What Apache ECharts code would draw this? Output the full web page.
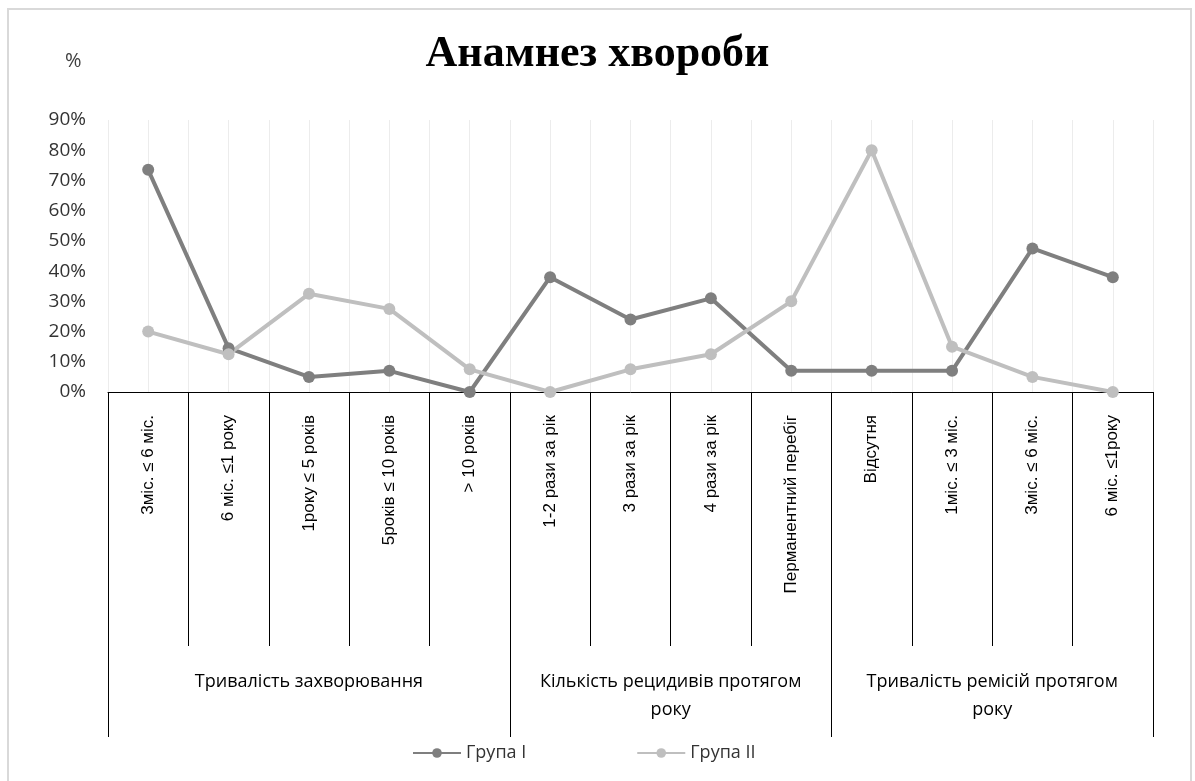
<!DOCTYPE html>
<html>
<head>
<meta charset="utf-8">
<script src="https://cdn.jsdelivr.net/npm/echarts@6/dist/echarts.min.js"></script>
<style>
  html, body { margin: 0; padding: 0; background: #ffffff; }
  #chart { width: 1195px; height: 781px; }
</style>
</head>
<body>
<div id="chart"></div>
<script>
// Categories along the horizontal axis
const categories = [
  '3міс. ≤ 6 міс.', '6 міс. ≤1 року', '1року ≤ 5 років', '5років ≤ 10 років', '> 10 років',
  '1-2 рази за рік', '3 рази за рік', '4 рази за рік', 'Перманентний перебіг',
  'Відсутня', '1міс. ≤ 3 міс.', '3міс. ≤ 6 міс.', '6 міс. ≤1року'
];

// Category groups: name and number of categories in each
const groupNames = ['Тривалість захворювання', 'Кількість рецидивів протягом\nроку', 'Тривалість ремісій протягом\nроку'];
const groupSizes = [5, 4, 4];

// Series values, %
const group1 = [73.5, 14.5, 5, 7, 0, 38, 24, 31, 7, 7, 7, 47.5, 38];
const group2 = [20, 12.5, 32.5, 27.5, 7.5, 0, 7.5, 12.5, 30, 80, 15, 5, 0];

const seriesNames = ['Група I', 'Група II'];
const yTicks = [0, 10, 20, 30, 40, 50, 60, 70, 80, 90];

// Group boundaries and centres in category units
const groupEdges = [0];
groupSizes.forEach(s => groupEdges.push(groupEdges[groupEdges.length - 1] + s));
const groupCentres = groupSizes.map((s, i) => groupEdges[i] + s / 2);

const chart = echarts.init(document.getElementById('chart'));
const sans = '"Open Sans", "Liberation Sans", sans-serif';

chart.setOption({
  backgroundColor: '#ffffff',
  animation: false,
  graphic: [{
    type: 'rect',
    shape: { x: 8, y: 9, width: 1183, height: 790 },
    style: { fill: 'none', stroke: '#d9d9d9', lineWidth: 2 },
    silent: true
  }],
  title: [{
    text: 'Анамнез хвороби',
    left: 'center',
    top: 28,
    textStyle: { fontFamily: '"Liberation Serif", "Times New Roman", serif', fontWeight: 'bold', fontSize: 44, color: '#000' }
  }, {
    text: '%',
    left: 60,
    top: 46,
    textStyle: { fontFamily: sans, fontWeight: 'normal', fontSize: 20, color: '#404040' }
  }],
  legend: {
    data: seriesNames,
    left: 407,
    top: 739,
    itemWidth: 48,
    itemHeight: 12,
    itemGap: 110,
    textStyle: { fontFamily: sans, fontSize: 18, color: '#333' }
  },
  grid: { left: 108, right: 42, top: 120, bottom: 389, containLabel: false },
  xAxis: [{
    type: 'category',
    data: categories,
    boundaryGap: true,
    position: 'bottom',
    axisLine: { lineStyle: { color: '#000', width: 1 } },
    axisTick: { show: true, interval: 0, length: 254, lineStyle: { color: '#000', width: 1 } },
    axisLabel: { interval: 0, rotate: 90, margin: 23, fontFamily: '"Liberation Sans", Arial, sans-serif', fontSize: 17, color: '#000' },
    splitLine: { show: false }
  }, {
    // group row beneath the category labels
    type: 'value',
    min: 0,
    max: categories.length,
    position: 'bottom',
    axisLine: { show: false },
    axisTick: { show: true, customValues: groupEdges, length: 345, lineStyle: { color: '#000', width: 1 } },
    axisLabel: {
      customValues: groupCentres,
      formatter: v => groupNames[groupCentres.indexOf(v)] || '',
      margin: 276,
      lineHeight: 28,
      align: 'center',
      fontFamily: sans,
      fontSize: 18,
      color: '#000'
    },
    splitLine: { show: false }
  }, {
    // light vertical gridlines every half category
    type: 'value',
    min: 0,
    max: categories.length,
    interval: 0.5,
    position: 'bottom',
    axisLine: { show: false },
    axisTick: { show: false },
    axisLabel: { show: false },
    splitLine: { show: true, lineStyle: { color: '#ececec', width: 1 } }
  }],
  yAxis: {
    type: 'value',
    min: yTicks[0],
    max: yTicks[yTicks.length - 1],
    interval: 10,
    axisLine: { show: false },
    axisTick: { show: false },
    splitLine: { show: false },
    axisLabel: { formatter: '{value}%', margin: 22, fontFamily: sans, fontSize: 19, color: '#333' }
  },
  series: [{
    name: seriesNames[0],
    type: 'line',
    data: group1,
    xAxisIndex: 0,
    symbol: 'circle',
    symbolSize: 12,
    lineStyle: { color: '#7f7f7f', width: 4 },
    itemStyle: { color: '#7f7f7f' }
  }, {
    name: seriesNames[1],
    type: 'line',
    data: group2,
    xAxisIndex: 0,
    symbol: 'circle',
    symbolSize: 12,
    lineStyle: { color: '#bfbfbf', width: 4 },
    itemStyle: { color: '#bfbfbf' }
  }]
});
</script>
</body>
</html>
